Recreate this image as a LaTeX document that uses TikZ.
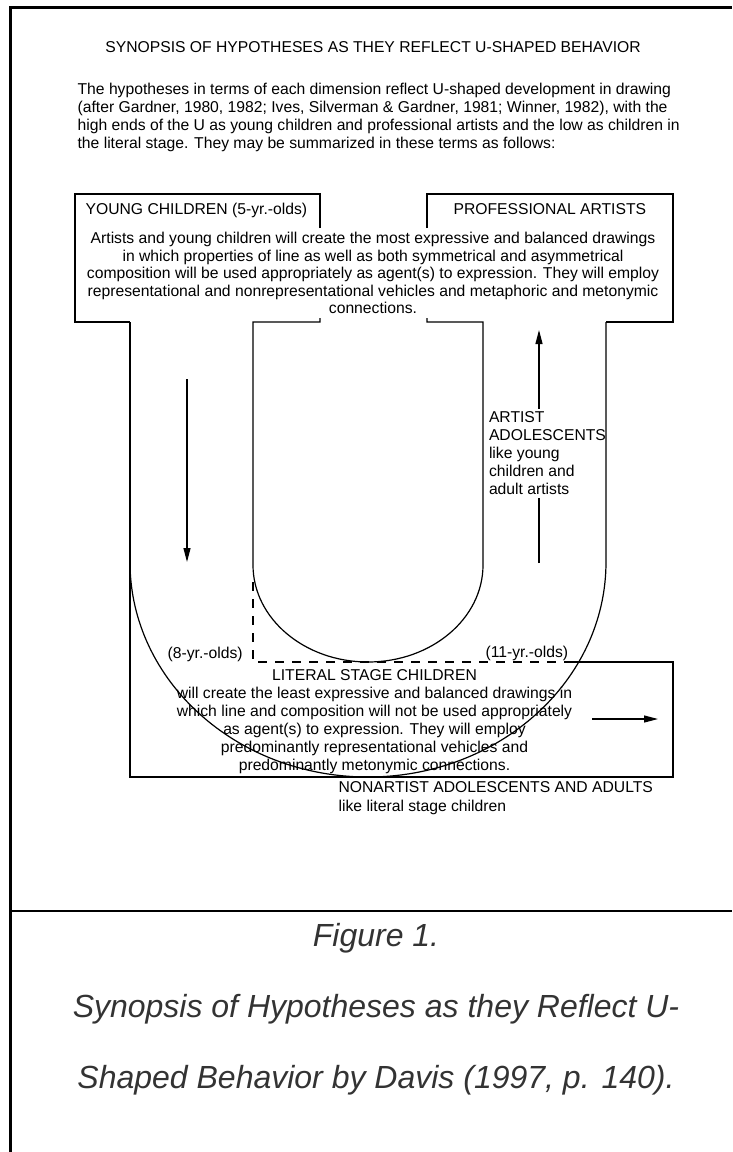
\documentclass[tikz,border=0pt]{standalone}
\usepackage{fontspec}
\setmainfont{Liberation Sans}
\usetikzlibrary{arrows.meta}

\tikzset{
  txt/.style={inner sep=0pt,font=\fontsize{15.7}{18}\selectfont},
  tip/.style={-{Triangle[length=14pt,width=7pt]}},
  capt/.style={inner sep=0pt,align=center,text=black!80,font=\fontsize{32}{71}\selectfont\itshape}
}

\begin{document}
\begin{tikzpicture}[x=1pt,y=-1pt,line width=1.2pt]
  \useasboundingbox (0,0) rectangle (732,1152);
  \draw[line width=3pt] (10,1152) -- (10,7) -- (732,7);
  \draw[line width=2.5pt] (10,911) -- (732,911);

  \node[txt,anchor=base] (title) at (373,52.6) {SYNOPSIS OF HYPOTHESES AS THEY REFLECT U-SHAPED BEHAVIOR};
  \node[txt,anchor=base west,align=left] (intro) at (77,148.5)
    {The hypotheses in terms of each dimension reflect U-shaped development in drawing\\
     (after Gardner, 1980, 1982; Ives, Silverman \& Gardner, 1981; Winner, 1982), with the\\
     high ends of the U as young children and professional artists and the low as children in\\
     the literal stage. They may be summarized in these terms as follows:};

  \node[txt,anchor=base west] (young) at (85,214.6) {YOUNG CHILDREN (5-yr.-olds)};
  \node[txt,anchor=base west] (prof) at (453,214.6) {PROFESSIONAL ARTISTS};
  \node[txt,anchor=base,align=center,font=\fontsize{15.7}{17.5}\selectfont] (most) at (373,313.5)
    {Artists and young children will create the most expressive and balanced drawings\\
     in which properties of line as well as both symmetrical and asymmetrical\\
     composition will be used appropriately as agent(s) to expression. They will employ\\
     representational and nonrepresentational vehicles and metaphoric and metonymic\\
     connections.};

  \draw (320,228) -- (320,194) -- (75,194) -- (75,322) -- (130,322);
  \draw (427,228) -- (427,194) -- (673,194) -- (673,322) -- (606,322);
  \draw (320,318) -- (320,322) -- (253,322) -- (253,565)
    arc[start angle=180,end angle=360,x radius=115pt,y radius=97pt]
    -- (483,322) -- (427,322) -- (427,318);
  \draw (130,322) -- (130,777) -- (673,777) -- (673,662) -- (573,662);
  \draw (606,322) -- (606,562)
    arc[start angle=0,end angle=-180,x radius=238pt,y radius=215pt];
  \draw[dash pattern=on 9pt off 8pt] (253,582) -- (253,662) -- (573,662);

  \coordinate (dhigh) at (187,379);
  \coordinate (dlow) at (187,562);
  \draw[tip] (dhigh) -- (dlow);

  \node[txt,anchor=base west,align=left,outer sep=3pt] (artist) at (486,494.5)
    {ARTIST\\ADOLESCENTS\\like young\\children and\\adult artists};
  \coordinate (ulow) at (539,563);
  \coordinate (uhigh) at (539,330);
  \draw (ulow) -- (ulow |- artist.south);
  \draw[tip] (uhigh |- artist.north) -- (uhigh);

  \node[txt,anchor=base west] (eight) at (167,658.5) {(8-yr.-olds)};
  \node[txt,anchor=base west] (eleven) at (485,657.5) {(11-yr.-olds)};
  \node[txt,anchor=base,align=center] (literal) at (374.5,770)
    {LITERAL STAGE CHILDREN\\
     will create the least expressive and balanced drawings in\\
     which line and composition will not be used appropriately\\
     as agent(s) to expression. They will employ\\
     predominantly representational vehicles and\\
     predominantly metonymic connections.};
  \coordinate (rleft) at (592,719);
  \coordinate (rright) at (658,719);
  \draw[tip] (rleft) -- (rright);
  \node[txt,anchor=base west,align=left,font=\fontsize{15.7}{18.5}\selectfont] (nonart) at (338,811)
    {NONARTIST ADOLESCENTS AND ADULTS\\like literal stage children};

  \node[capt,anchor=base] (caption) at (376,1088)
    {Figure 1.\\Synopsis of Hypotheses as they Reflect U-\\Shaped Behavior by Davis (1997, p. 140).};
\end{tikzpicture}
\end{document}
